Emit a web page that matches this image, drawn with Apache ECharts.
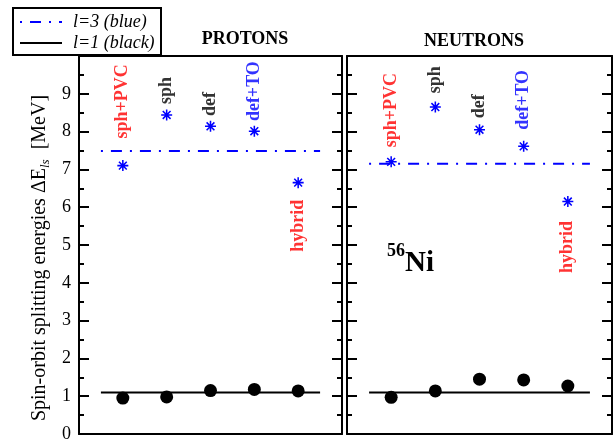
<!DOCTYPE html>
<html>
<head>
<meta charset="utf-8">
<script src="https://cdn.jsdelivr.net/npm/echarts@6/dist/echarts.min.js"></script>
<style>
html,body{margin:0;padding:0;background:#fff;}
#chart{width:613px;height:439px;}
</style>
</head>
<body>
<div id="chart"></div>
<script>
// ---- data ----
const categories = ['sph+PVC', 'sph', 'def', 'def+TO', 'hybrid'];
const xPositions = [1, 2, 3, 4, 5];
const protonsL1 = [0.95, 0.98, 1.15, 1.18, 1.14];
const protonsL3 = [7.10, 8.44, 8.14, 8.01, 6.65];
const neutronsL1 = [0.97, 1.14, 1.45, 1.43, 1.27];
const neutronsL3 = [7.20, 8.65, 8.05, 7.61, 6.15];
const protonsRefL1 = 1.1;
const protonsRefL3 = 7.49;
const neutronsRefL1 = 1.1;
const neutronsRefL3 = 7.15;
const refRange = [0.5, 5.5];
const protonsLabelY = [8.80, 9.09, 8.73, 9.07, 5.51];
const neutronsLabelY = [8.57, 9.37, 8.67, 8.84, 4.95];
const labelColors = ['#ff0000', '#000000', '#000000', '#0000ff', '#ff0000'];
const yTicks = [0, 1, 2, 3, 4, 5, 6, 7, 8, 9];

const SERIF = "'Liberation Serif','Times New Roman',serif";
const BLUE = '#0000ff';
const STAR = 'path://M43 0 L57 0 L57 100 L43 100 Z M0 43 L100 43 L100 57 L0 57 Z M19.55 9.65 L90.35 80.45 L80.45 90.35 L9.65 19.55 Z M90.35 19.55 L19.55 90.35 L9.65 80.45 L80.45 9.65 Z';
const DASHDOT = [11, 8, 2, 8];

const chart = echarts.init(document.getElementById('chart'), null, {renderer: 'canvas'});

function xAxisFor(gi) {
  return {
    gridIndex: gi, type: 'value', min: 0, max: 6,
    axisLine: {show: true, onZero: false, lineStyle: {color: '#000', width: 2}},
    axisTick: {show: false}, axisLabel: {show: false}, splitLine: {show: false}
  };
}
function yAxisFor(gi, pos, labels) {
  return {
    gridIndex: gi, type: 'value', min: 0, max: 10, interval: 1, position: pos,
    axisLine: {show: true, onZero: false, lineStyle: {color: '#000', width: 2}},
    axisTick: {show: true, inside: true, length: 10, lineStyle: {color: '#000', width: 2}},
    minorTick: {show: true, splitNumber: 2, length: 5, lineStyle: {color: '#000', width: 2}},
    splitLine: {show: false},
    axisLabel: {
      show: labels, margin: 8, color: '#000', fontFamily: SERIF, fontSize: 18,
      formatter: v => (yTicks.indexOf(v) >= 0 ? String(v) : '')
    }
  };
}
function pts(ys) { return xPositions.map((x, i) => [x, ys[i]]); }
function refLine(y) { return [[refRange[0], y], [refRange[1], y]]; }
function labelData(ys) {
  return xPositions.map((x, i) => ({
    value: [x, ys[i]],
    label: {color: labelColors[i], formatter: categories[i]}
  }));
}

function panelSeries(xi, yi, l1, l3, r1, r3, labY) {
  return [
    {type: 'line', xAxisIndex: xi, yAxisIndex: yi, data: refLine(r3), symbol: 'none', silent: true,
     lineStyle: {color: BLUE, width: 2, type: DASHDOT, dashOffset: 19}, z: 2},
    {type: 'line', xAxisIndex: xi, yAxisIndex: yi, data: refLine(r1), symbol: 'none', silent: true,
     lineStyle: {color: '#000', width: 2}, z: 2},
    {type: 'scatter', xAxisIndex: xi, yAxisIndex: yi, data: pts(l3), symbol: STAR, symbolSize: 11,
     itemStyle: {color: BLUE, opacity: 1}, z: 3},
    {type: 'scatter', xAxisIndex: xi, yAxisIndex: yi, data: pts(l1), symbol: 'circle', symbolSize: 13,
     itemStyle: {color: '#000', opacity: 1}, z: 3},
    {type: 'scatter', xAxisIndex: xi, yAxisIndex: yi, data: labelData(labY), symbolSize: 0, silent: true,
     label: {show: true, position: 'inside', rotate: 90, fontFamily: SERIF, fontWeight: 'bold', fontSize: 18,
             align: 'center', verticalAlign: 'middle'}, z: 4}
  ];
}

const option = {
  animation: false,
  backgroundColor: '#fff',
  grid: [
    {left: 79, top: 56, width: 263, height: 378, show: false, containLabel: false, outerBoundsMode: 'none'},
    {left: 347, top: 56, width: 265, height: 378, show: false, containLabel: false, outerBoundsMode: 'none'}
  ],
  xAxis: [
    xAxisFor(0), Object.assign(xAxisFor(0), {position: 'top'}),
    xAxisFor(1), Object.assign(xAxisFor(1), {position: 'top'})
  ],
  yAxis: [
    yAxisFor(0, 'left', true), yAxisFor(0, 'right', false),
    yAxisFor(1, 'left', false), yAxisFor(1, 'right', false)
  ],
  series: [].concat(
    panelSeries(0, 0, protonsL1, protonsL3, protonsRefL1, protonsRefL3, protonsLabelY),
    panelSeries(2, 2, neutronsL1, neutronsL3, neutronsRefL1, neutronsRefL3, neutronsLabelY)
  ),
  graphic: [
    {type: 'text', x: 40, y: 258, rotation: Math.PI / 2,
     style: {text: '{n|Spin-orbit splitting energies \u0394E}{s|ls}{n|  [MeV]}', align: 'center', verticalAlign: 'middle',
             rich: {n: {fontFamily: SERIF, fontSize: 20, lineHeight: 24, color: '#000'},
                    s: {fontFamily: SERIF, fontSize: 13, fontStyle: 'italic', lineHeight: 13, verticalAlign: 'bottom', color: '#000'}}}},
    {type: 'text', x: 245, y: 39,
     style: {text: 'PROTONS', fontFamily: SERIF, fontWeight: 'bold', fontSize: 18, fill: '#000', align: 'center', verticalAlign: 'middle'}},
    {type: 'text', x: 474, y: 41,
     style: {text: 'NEUTRONS', fontFamily: SERIF, fontWeight: 'bold', fontSize: 18, fill: '#000', align: 'center', verticalAlign: 'middle'}},
    {type: 'text', x: 387, y: 242,
     style: {text: '{sup|56}{big|Ni}', align: 'left', verticalAlign: 'top',
             rich: {sup: {fontFamily: SERIF, fontWeight: 'bold', fontSize: 18, lineHeight: 18, verticalAlign: 'top', color: '#000'},
                    big: {fontFamily: SERIF, fontWeight: 'bold', fontSize: 29, lineHeight: 36, verticalAlign: 'bottom', color: '#000'}}}},
    // legend box
    {type: 'rect', shape: {x: 13, y: 8, width: 148, height: 47}, style: {fill: '#fff', stroke: '#000', lineWidth: 2}, z: 10},
    {type: 'line', shape: {x1: 20, y1: 22, x2: 62, y2: 22}, style: {stroke: BLUE, lineWidth: 2, lineDash: DASHDOT, lineDashOffset: 19}, z: 11},
    {type: 'text', x: 73, y: 22, z: 11,
     style: {text: 'l=3 (blue)', fontFamily: SERIF, fontStyle: 'italic', fontSize: 18, fill: '#000', verticalAlign: 'middle'}},
    {type: 'line', shape: {x1: 20, y1: 43, x2: 62, y2: 43}, style: {stroke: '#000', lineWidth: 2}, z: 11},
    {type: 'text', x: 73, y: 43, z: 11,
     style: {text: 'l=1 (black)', fontFamily: SERIF, fontStyle: 'italic', fontSize: 18, fill: '#000', verticalAlign: 'middle'}}
  ]
};
chart.setOption(option);
</script>
</body>
</html>
